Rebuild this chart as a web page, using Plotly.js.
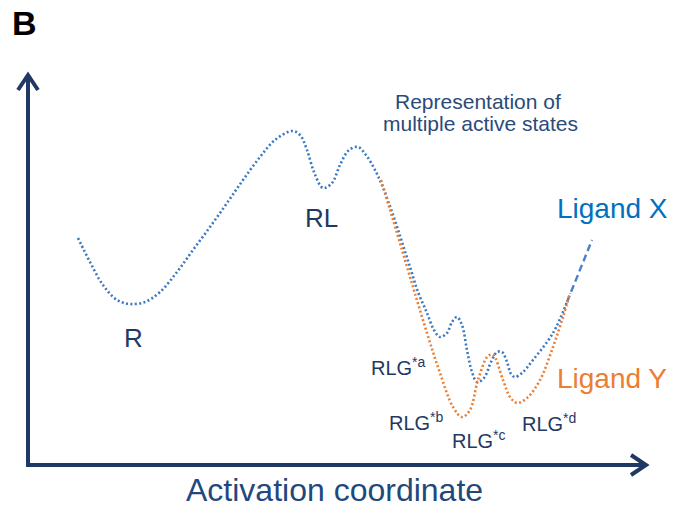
<!DOCTYPE html>
<html>
<head>
<meta charset="utf-8">
<script src="https://cdn.plot.ly/plotly-3.0.1.min.js"></script>
<style>html,body{margin:0;padding:0;background:#fff;}#chart{width:675px;height:507px;}</style>
</head>
<body>
<div id="chart"></div>
<script>
// Activation coordinate (x) and free energy (y)
var ligandXCoord = [78,90,103,117,130,145,160,177,193,210,227,243,260,275,292,300,307,314,323,332,340,349,358,366,375,382,392,402,410,418,427,434,440,447,452,457,462,467,472,477,484,491,497,502,507,511,515,522,533,553,567];
var ligandXEnergy = [269,245,222,207,203,205,215,235,257,280,304,327,350,367,376,372,357,335,319,324,342,357,360,352,337,322,295,265,240,215,194,177,170,174,185,190,182,157,135,125,129,145,155,155,145,133,130,134,147,174,205];
var ligandXExtCoord = [567,592];
var ligandXExtEnergy = [205,267];
var ligandYCoord = [381,397,410,427,440,453,462,470,478,488,493,503,510,517,527,540,553,563,570];
var ligandYEnergy = [327,274,230,174,134,100,90,97,127,151,152,127,110,104,109,127,160,190,214];
var seriesNames = ["Ligand X", "Ligand Y"];
var stateNames = ["R", "RL", "RLG", "RLG", "RLG", "RLG"];
var stateSup = ["", "", "*a", "*b", "*c", "*d"];
var noteLines = ["Representation of", "multiple active states"];
var axisTitle = "Activation coordinate";
var panelLabel = "B";

var navy = "#1F3864";
var blue = "#3A78C2";
var orange = "#ED7D31";
var font = "Liberation Sans, Arial, sans-serif";
var H = 507;
function py(p){ return H - p; }

var traces = [
  {x: ligandXCoord, y: ligandXEnergy, mode: "lines", line: {color: blue, width: 2.6, dash: "2px,2.4px", shape: "spline", smoothing: 1}, hoverinfo: "skip", name: seriesNames[0]},
  {x: ligandXExtCoord, y: ligandXExtEnergy, mode: "lines", line: {color: "#4A80C8", width: 2.4, dash: "7px,4px"}, hoverinfo: "skip"},
  {x: ligandYCoord, y: ligandYEnergy, mode: "lines", line: {color: orange, width: 2.6, dash: "2px,2.4px", shape: "spline", smoothing: 1}, hoverinfo: "skip", name: seriesNames[1]}
];

function ann(text, x, yp, size, color, xanchor, bold){
  return {text: bold ? "<b>"+text+"</b>" : text, x: x, y: py(yp), xref: "x", yref: "y", showarrow: false,
    xanchor: xanchor || "center", yanchor: "middle", font: {family: font, size: size, color: color}};
}

var annotations = [
  ann(panelLabel, 10, 23, 34, "#000", "left", true),
  ann(stateNames[0], 133, 338, 26, navy),
  ann(stateNames[1], 321, 218, 26, navy),
  ann(noteLines[0], 478, 101, 21, "#2A4A7A"),
  ann(noteLines[1], 480, 123, 21, "#2A4A7A"),
  ann(seriesNames[0], 612, 208, 28, "#0070C0"),
  ann(seriesNames[1], 612, 378, 28, orange),
  ann(axisTitle, 334, 490, 32, "#1F497D")
];

// RLG* state labels: main text plus a raised superscript
var subPos = [null, null, [369, 368], [387, 423], [450, 441], [520, 424]];
for (var i = 2; i < stateNames.length; i++) {
  var p = subPos[i];
  annotations.push(ann(stateNames[i], p[0], p[1], 20, navy, "left"));
  annotations.push(ann(stateSup[i], p[0] + 41, p[1] - 6, 14, navy, "left"));
}

var lw = 4;
var shapes = [
  {type: "line", x0: 28, y0: py(466), x1: 28, y1: py(76), line: {color: navy, width: lw}},
  {type: "path", path: "M 18 " + py(90) + " L 28 " + py(75) + " L 38 " + py(90), line: {color: navy, width: lw}},
  {type: "line", x0: 26, y0: py(465), x1: 645, y1: py(465), line: {color: navy, width: lw}},
  {type: "path", path: "M 631 " + py(455) + " L 646 " + py(465) + " L 631 " + py(475), line: {color: navy, width: lw}}
];

var layout = {
  width: 675, height: 507,
  margin: {l: 0, r: 0, t: 0, b: 0},
  paper_bgcolor: "#fff", plot_bgcolor: "#fff",
  showlegend: false,
  xaxis: {range: [0, 675], visible: false, fixedrange: true},
  yaxis: {range: [0, 507], visible: false, fixedrange: true},
  annotations: annotations,
  shapes: shapes
};

Plotly.newPlot("chart", traces, layout, {displayModeBar: false, staticPlot: true});
</script>
</body>
</html>
